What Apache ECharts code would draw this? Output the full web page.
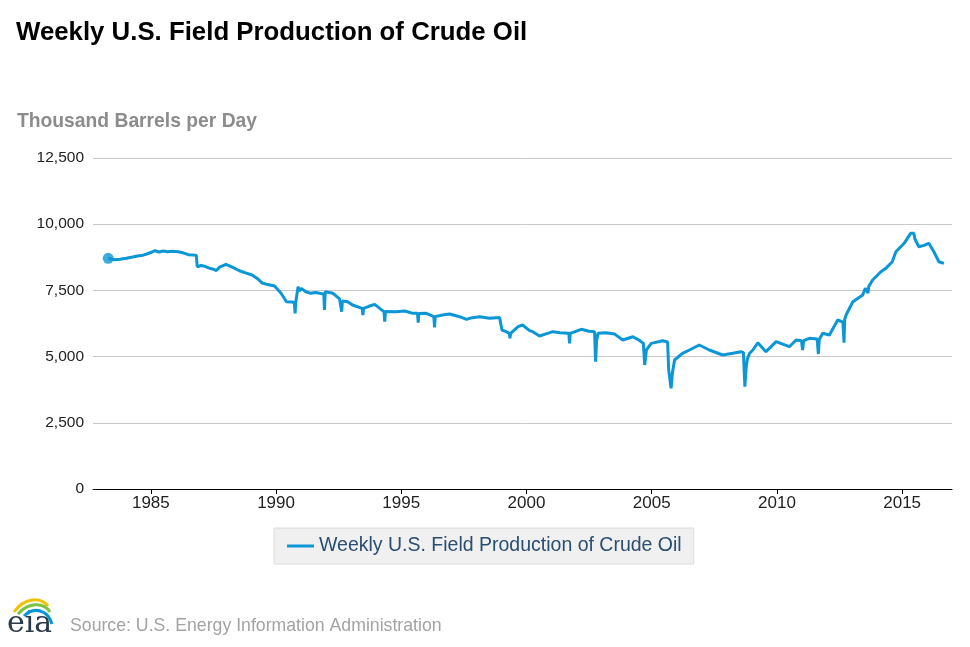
<!DOCTYPE html>
<html>
<head>
<meta charset="utf-8">
<script src="https://cdn.jsdelivr.net/npm/echarts@6/dist/echarts.min.js"></script>
<style>
html,body{margin:0;padding:0;background:#fff;}
#chart{width:970px;height:647px;}
</style>
</head>
<body>
<div id="chart"></div>
<script>
var chartTitle = 'Weekly U.S. Field Production of Crude Oil';
var unitLabel = 'Thousand Barrels per Day';
var seriesName = 'Weekly U.S. Field Production of Crude Oil';
var sourceText = 'Source: U.S. Energy Information Administration';
var tickYears = [1985, 1990, 1995, 2000, 2005, 2010, 2015];
var yTicks = [0, 2500, 5000, 7500, 10000, 12500];

var weekDates = [
'1983-04-20','1983-07-15','1983-10-10','1984-01-10','1984-04-10','1984-06-20','1984-09-10','1984-11-01',
'1985-01-20','1985-03-01','1985-05-01','1985-07-01','1985-09-01','1985-11-15','1986-02-01','1986-04-15',
'1986-07-01','1986-09-15','1986-10-25','1986-11-08','1987-01-01','1987-03-01','1987-05-01','1987-07-01',
'1987-08-15','1987-10-01','1988-01-01','1988-03-01','1988-05-01','1988-07-15','1988-10-15','1989-01-15',
'1989-04-01','1989-06-15','1989-09-01','1989-12-10','1990-03-15','1990-06-01','1990-08-15','1990-09-25',
'1990-10-05','1990-10-15','1990-11-18','1990-12-10','1991-01-05','1991-03-10','1991-05-20','1991-08-01',
'1991-10-15','1991-11-28','1991-12-08','1991-12-18','1992-01-10','1992-04-10','1992-07-15','1992-08-05',
'1992-08-15','1992-08-25','1992-11-10','1993-01-20','1993-06-10','1993-06-20','1993-06-30','1993-09-15',
'1993-12-10','1994-02-20','1994-04-25','1994-05-05','1994-05-15','1994-10-20','1995-02-20','1995-06-20',
'1995-08-25','1995-09-05','1995-09-15','1996-01-01','1996-04-20','1996-04-30','1996-05-10','1996-08-25',
'1996-12-05','1997-04-30','1997-08-10','1997-11-01','1998-02-20','1998-07-10','1998-12-05','1999-01-08',
'1999-03-01','1999-04-25','1999-05-05','1999-05-15','1999-09-01','1999-11-05','2000-02-15','2000-04-01',
'2000-07-10','2000-10-01','2001-01-20','2001-05-01','2001-09-10','2001-09-20','2001-09-30','2002-03-10',
'2002-07-01','2002-09-20','2002-10-05','2002-10-20','2002-11-10','2003-03-05','2003-07-10','2003-11-05',
'2004-04-01','2004-07-01','2004-09-01','2004-09-20','2004-10-15','2004-12-25','2005-06-10','2005-08-20',
'2005-09-05','2005-10-10','2005-10-30','2005-11-30','2006-03-25','2006-07-05','2006-11-25','2007-04-20',
'2007-11-01','2008-03-30','2008-07-25','2008-08-30','2008-09-20','2008-10-08','2008-10-25','2008-11-28',
'2009-01-15','2009-03-28','2009-07-25','2009-12-20','2010-07-01','2010-10-08','2010-12-25','2011-01-10',
'2011-01-25','2011-04-20','2011-08-10','2011-08-28','2011-09-10','2011-10-30','2012-02-05','2012-06-05',
'2012-08-20','2012-09-05','2012-09-15','2012-10-05','2013-01-12','2013-06-05','2013-07-12','2013-08-20',
'2013-09-01','2013-10-27','2014-02-25','2014-05-08','2014-08-10','2014-10-01','2015-01-30','2015-05-05',
'2015-06-20','2015-07-05','2015-09-01','2015-11-15','2016-01-25','2016-04-08','2016-06-20','2016-09-01'
];
var production = [
8711,8660,8674,8711,8760,8799,8830,8874,
8950,8999,8950,8985,8961,8975,8961,8920,
8850,8836,8830,8395,8440,8410,8340,8300,
8250,8380,8484,8420,8340,8243,8160,8080,
7950,7778,7720,7665,7390,7073,7060,7040,
6634,7050,7640,7480,7578,7450,7390,7420,
7380,7360,6760,7450,7490,7390,7180,7137,
6696,7100,7073,6947,6822,6570,6820,6900,
6972,6822,6696,6318,6700,6696,6722,6634,
6640,6280,6630,6634,6507,6106,6510,6570,
6610,6507,6407,6470,6507,6445,6480,6004,
5950,5879,5690,5880,6129,6193,5980,5941,
5778,5850,5941,5900,5879,5500,5880,6030,
5960,5941,4807,5600,5880,5904,5850,5626,
5750,5620,5500,4682,5250,5500,5600,5550,
4500,3802,4400,4871,5124,5249,5437,5249,
5060,5124,5186,5150,3863,4557,4900,5124,
5249,5524,5186,5563,5374,5626,5600,5250,
5600,5689,5663,5098,5650,5879,5815,6382,
6300,5524,6400,6570,7073,7326,7578,7400,
7650,7892,8206,8333,8583,8961,9278,9655,
9655,9450,9150,9200,9278,8961,8583,8520
];

var lineColor = '#0b96d6';
var fontFam = '"Liberation Sans", Arial, Helvetica, sans-serif';

function toTime(s) { var p = s.split('-'); return Date.UTC(+p[0], +p[1] - 1, +p[2]); }
var seriesData = weekDates.map(function (d, i) { return [toTime(d), production[i]]; });
var tickTimes = tickYears.map(function (y) { return Date.UTC(y, 0, 1); });

var chart = echarts.init(document.getElementById('chart'), null, {renderer: 'canvas'});
chart.setOption({
  animation: false,
  backgroundColor: '#ffffff',
  textStyle: {fontFamily: fontFam},
  title: {
    text: chartTitle,
    left: 16, top: 20, padding: 0,
    textStyle: {fontSize: 25.8, fontWeight: 'bold', color: '#000', fontFamily: fontFam}
  },
  grid: {left: 93, right: 18, top: 158, bottom: 158, containLabel: false},
  xAxis: {
    type: 'value',
    min: toTime('1982-09-10'),
    max: toTime('2016-12-28'),
    axisLine: {show: true, lineStyle: {color: '#000', width: 1}},
    axisTick: {show: true, length: 5, lineStyle: {color: '#000'}, customValues: tickTimes},
    axisLabel: {
      customValues: tickTimes,
      fontSize: 17, color: '#222', margin: 6, fontFamily: fontFam,
      formatter: function (v) { return String(new Date(v).getUTCFullYear()); }
    },
    splitLine: {show: false}
  },
  yAxis: {
    type: 'value',
    min: yTicks[0], max: yTicks[yTicks.length - 1], interval: yTicks[1] - yTicks[0],
    axisLine: {show: false}, axisTick: {show: false},
    axisLabel: {
      fontSize: 15.5, color: '#222', margin: 9, fontFamily: fontFam,
      formatter: function (v) { return v.toLocaleString('en-US'); }
    },
    splitLine: {lineStyle: {color: '#c8c8c8', width: 1}}
  },
  legend: {
    data: [seriesName],
    left: 274, top: 528,
    backgroundColor: '#f0f0f0', borderColor: '#dcdcdc', borderWidth: 1,
    padding: [8, 12, 8, 13],
    icon: 'rect', itemWidth: 27, itemHeight: 3, itemGap: 6,
    textStyle: {fontSize: 19.5, color: '#2a4d72', fontFamily: fontFam}
  },
  series: [
    {
      name: seriesName, type: 'line', data: seriesData,
      showSymbol: false, lineStyle: {color: lineColor, width: 3}, itemStyle: {color: lineColor},
      z: 3
    },
    {
      name: 'start', type: 'scatter', data: [seriesData[0]],
      symbol: 'circle', symbolSize: 11, itemStyle: {color: lineColor}, z: 4
    }
  ],
  graphic: [
    {type: 'text', left: 17, top: 112, style: {text: unitLabel, font: 'bold 19.3px ' + fontFam, fill: '#8c8c8c'}},
    {type: 'text', left: 70, top: 617, style: {text: sourceText, font: '17.7px ' + fontFam, fill: '#a3a3a3'}},
    {type: 'text', left: 7, top: 609, style: {text: 'eia', font: '30px "DejaVu Serif", "Liberation Serif", serif', fill: '#2b3a4a'}},
    {type: 'bezierCurve', shape: {x1: 14, y1: 612, x2: 48, y2: 606, cpx1: 24, cpy1: 598, cpx2: 40, cpy2: 596}, style: {stroke: '#f2c200', lineWidth: 3, fill: null}},
    {type: 'bezierCurve', shape: {x1: 18, y1: 614, x2: 50, y2: 612, cpx1: 28, cpy1: 602, cpx2: 44, cpy2: 602}, style: {stroke: '#7cc242', lineWidth: 3, fill: null}},
    {type: 'bezierCurve', shape: {x1: 24, y1: 616, x2: 52, y2: 624, cpx1: 34, cpy1: 606, cpx2: 48, cpy2: 610}, style: {stroke: '#0096d7', lineWidth: 3, fill: null}}
  ]
});
</script>
</body>
</html>
